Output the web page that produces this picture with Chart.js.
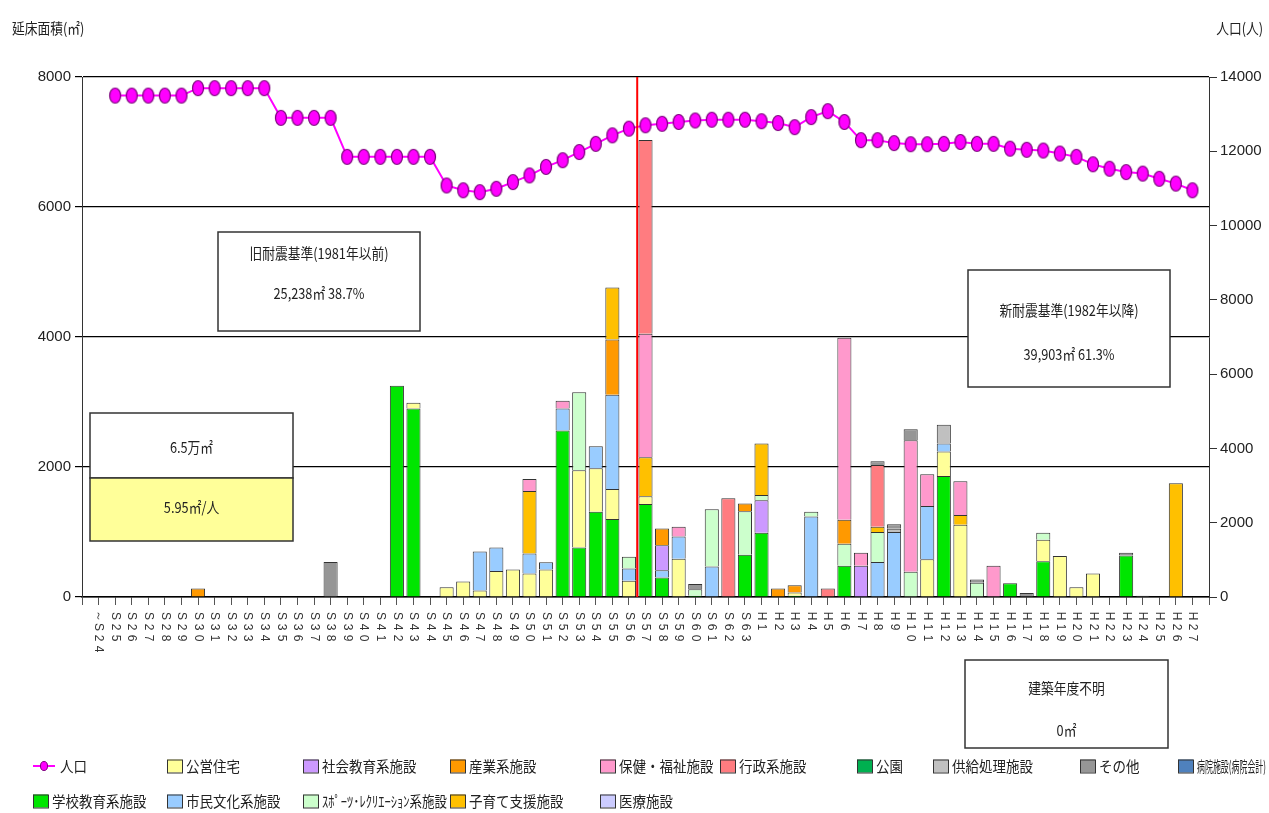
<!DOCTYPE html>
<html>
<head>
<meta charset="utf-8">
<script src="https://cdn.jsdelivr.net/npm/chart.js@4.4.1/dist/chart.umd.min.js"></script>
<style>
  html, body { margin: 0; padding: 0; background: #fff; }
  canvas { display: block; }
</style>
</head>
<body>
<canvas id="chart" width="1269" height="813"></canvas>
<script>
// 建築年度 (x axis)
const categories = [
  '～S24',
  'S25','S26','S27','S28','S29','S30','S31','S32','S33','S34',
  'S35','S36','S37','S38','S39','S40','S41','S42','S43','S44',
  'S45','S46','S47','S48','S49','S50','S51','S52','S53','S54',
  'S55','S56','S57','S58','S59','S60','S61','S62','S63','H1',
  'H2','H3','H4','H5','H6','H7','H8','H9','H10','H11',
  'H12','H13','H14','H15','H16','H17','H18','H19','H20','H21',
  'H22','H23','H24','H25','H26','H27'
];

// 延床面積 (㎡) per use, same order as categories
const school = [
  0,
  0,0,0,0,0,0,0,0,0,0,
  0,0,0,0,0,0,0,3250,2900,0,
  0,0,0,0,0,0,0,2560,760,1310,
  1200,0,1430,300,0,20,0,0,650,990,
  0,20,0,0,480,0,0,0,0,0,
  1860,0,0,0,210,0,550,0,0,0,
  0,640,0,0,0,0
];
const housing = [
  0,
  0,0,0,0,0,0,0,0,0,0,
  0,0,0,0,0,0,0,0,90,0,
  150,240,100,400,425,360,425,0,1190,670,
  460,250,120,0,590,0,0,0,0,0,
  0,50,0,0,0,0,0,0,0,580,
  380,1110,0,0,0,0,330,630,150,360,
  0,0,0,0,0,0
];
const culture = [
  0,
  0,0,0,0,0,0,0,0,0,0,
  0,0,0,0,0,0,0,0,0,0,
  0,0,600,360,0,310,110,340,0,340,
  1450,190,0,110,340,0,470,0,0,0,
  0,0,1240,0,0,0,540,1000,0,820,
  120,0,0,0,0,0,0,0,0,0,
  0,0,0,0,0,0
];
const social = [
  0,
  0,0,0,0,0,0,0,0,0,0,
  0,0,0,0,0,0,0,0,0,0,
  0,0,0,0,0,0,0,0,0,0,
  0,0,0,385,0,0,0,0,0,500,
  0,0,0,0,0,480,0,0,0,0,
  0,0,0,0,0,0,0,0,0,0,
  0,0,0,0,0,0
];
const sports = [
  0,
  0,0,0,0,0,0,0,0,0,0,
  0,0,0,0,0,0,0,0,0,0,
  0,0,0,0,0,0,0,0,1200,0,
  0,180,0,0,0,100,880,0,670,80,
  0,0,70,0,340,0,460,0,390,0,
  0,0,220,0,0,0,110,0,0,0,
  0,0,0,0,0,0
];
const industry = [
  0,
  0,0,0,0,0,130,0,0,0,0,
  0,0,0,0,0,0,0,0,0,0,
  0,0,0,0,0,0,0,0,0,0,
  850,0,0,260,0,0,0,0,120,0,
  130,110,0,0,370,0,0,0,0,0,
  0,0,0,0,0,0,0,0,0,0,
  0,0,0,0,0,0
];
const childcare = [
  0,
  0,0,0,0,0,0,0,0,0,0,
  0,0,0,0,0,0,0,0,0,0,
  0,0,0,0,0,960,0,0,0,0,
  800,0,600,0,0,0,0,0,0,790,
  0,0,0,0,0,0,80,0,0,0,
  0,150,0,0,0,0,0,0,0,0,
  0,0,0,0,1750,0
];
const welfare = [
  0,
  0,0,0,0,0,0,0,0,0,0,
  0,0,0,0,0,0,0,0,0,0,
  0,0,0,0,0,185,0,120,0,0,
  0,0,1900,0,150,0,0,0,0,0,
  0,0,0,0,2800,200,0,0,2020,490,
  0,520,0,480,0,0,0,0,0,0,
  0,0,0,0,0,0
];
const medical = [
  0,
  0,0,0,0,0,0,0,0,0,0,
  0,0,0,0,0,0,0,0,0,0,
  0,0,0,0,0,0,0,0,0,0,
  0,0,0,0,0,0,0,0,0,0,
  0,0,0,0,0,0,0,0,0,0,
  0,0,0,0,0,0,0,0,0,0,
  0,0,0,0,0,0
];
const admin = [
  0,
  0,0,0,0,0,0,0,0,0,0,
  0,0,0,0,0,0,0,0,0,0,
  0,0,0,0,0,0,0,0,0,0,
  0,0,2980,0,0,0,0,1520,0,0,
  0,0,0,130,0,0,950,0,0,0,
  0,0,0,0,0,0,0,0,0,0,
  0,0,0,0,0,0
];
const park = [
  0,
  0,0,0,0,0,0,0,0,0,0,
  0,0,0,0,0,0,0,0,0,0,
  0,0,0,0,0,0,0,0,0,0,
  0,0,0,0,0,0,0,0,0,0,
  0,0,0,0,0,0,0,0,0,0,
  0,0,0,0,0,0,0,0,0,0,
  0,0,0,0,0,0
];
const supply = [
  0,
  0,0,0,0,0,0,0,0,0,0,
  0,0,0,0,0,0,0,0,0,0,
  0,0,0,0,0,0,0,0,0,0,
  0,0,0,0,0,0,0,0,0,0,
  0,0,0,0,0,0,0,50,0,0,
  290,0,0,0,0,0,0,0,0,0,
  0,0,0,0,0,0
];
const other = [
  0,
  0,0,0,0,0,0,0,0,0,0,
  0,0,0,540,0,0,0,0,0,0,
  0,0,0,0,0,0,0,0,0,0,
  0,0,0,0,0,80,0,0,0,0,
  0,0,0,0,0,0,60,70,170,0,
  0,0,50,0,0,60,0,0,0,0,
  0,40,20,0,0,0
];
const hospital = [
  0,
  0,0,0,0,0,0,0,0,0,0,
  0,0,0,0,0,0,0,0,0,0,
  0,0,0,0,0,0,0,0,0,0,
  0,0,0,0,0,0,0,0,0,0,
  0,0,0,0,0,0,0,0,0,0,
  0,0,0,0,0,0,0,0,0,0,
  0,0,0,0,0,0
];

// 人口 (人), S25 .. H27 (no value for ～S24)
const population = [
  13500,13500,13500,13500,13500,13700,13700,13700,13700,13700,
  12900,12900,12900,12900,11850,11850,11850,11850,11850,11850,
  11080,10950,10900,10990,11170,11350,11580,11760,11980,12200,
  12430,12610,12700,12740,12790,12830,12850,12850,12850,12810,
  12760,12650,12920,13080,12790,12300,12300,12220,12190,12190,
  12200,12250,12200,12200,12070,12040,12020,11940,11850,11650,
  11530,11440,11400,11260,11130,10950
];

const leftTicks = [0, 2000, 4000, 6000, 8000];
const rightTicks = [0, 2000, 4000, 6000, 8000, 10000, 12000, 14000];

const JP = "'Noto Sans CJK JP', sans-serif";
const NUM = "'Liberation Sans', sans-serif";

const series = [
  { label: '学校教育系施設', data: school, color: '#00e600' },
  { label: '公営住宅', data: housing, color: '#ffff99' },
  { label: '市民文化系施設', data: culture, color: '#99ccff' },
  { label: '社会教育系施設', data: social, color: '#cc99ff' },
  { label: 'ｽﾎﾟｰﾂ･ﾚｸﾘｴｰｼｮﾝ系施設', data: sports, color: '#ccffcc' },
  { label: '産業系施設', data: industry, color: '#ff9900' },
  { label: '子育て支援施設', data: childcare, color: '#ffc000' },
  { label: '保健・福祉施設', data: welfare, color: '#ff99cc' },
  { label: '医療施設', data: medical, color: '#ccccff' },
  { label: '行政系施設', data: admin, color: '#ff7c80' },
  { label: '公園', data: park, color: '#00b050' },
  { label: '供給処理施設', data: supply, color: '#c0c0c0' },
  { label: 'その他', data: other, color: '#969696' },
  { label: '病院施設(病院会計)', data: hospital, color: '#4f81bd' }
];

// blank slot at each end so the axis lines sit one step outside the first/last year
const xLabels = ['', ...categories, ''];
const pad = arr => [null, ...arr, null];

// population marker: upright oval
const marker = document.createElement('canvas');
marker.width = 14; marker.height = 18;
{
  const m = marker.getContext('2d');
  m.beginPath();
  m.ellipse(7, 9, 5.5, 7.5, 0, 0, Math.PI * 2);
  m.fillStyle = '#ff00ff';
  m.fill();
  m.lineWidth = 1.2;
  m.strokeStyle = '#7a007a';
  m.stroke();
}

function drawText(ctx, text, x, y, size, align, sx, maxW) {
  ctx.save();
  ctx.font = size + 'px ' + JP;
  ctx.fillStyle = '#222';
  ctx.textBaseline = 'middle';
  ctx.textAlign = align;
  ctx.translate(x, y);
  const w = ctx.measureText(text).width * sx;
  const k = maxW && w > maxW ? sx * maxW / w : sx;
  ctx.scale(k, 1);
  ctx.fillText(text, 0, 0);
  ctx.restore();
}

const notes = [
  { x: 218, y: 232, w: 202, h: 99, fill: '#fff', lines: [['旧耐震基準(1981年以前)', 21], ['25,238㎡ 38.7%', 61]] },
  { x: 968, y: 270, w: 202, h: 117, fill: '#fff', lines: [['新耐震基準(1982年以降)', 40], ['39,903㎡ 61.3%', 84]] },
  { x: 90, y: 413, w: 203, h: 65, fill: '#fff', lines: [['6.5万㎡', 34]] },
  { x: 90, y: 478, w: 203, h: 63, fill: '#ffff99', lines: [['5.95㎡/人', 29]] },
  { x: 965, y: 660, w: 203, h: 88, fill: '#fff', lines: [['建築年度不明', 28], ['0㎡', 70]] }
];

const legendCols = [33, 167, 303, 450, 600, 720, 857, 933, 1080, 1178];
const legendRows = [766, 801];

const decorations = {
  id: 'decorations',
  afterDatasetsDraw(chart) {
    const ctx = chart.ctx;
    const x = chart.scales.x;
    const area = chart.chartArea;
    // 1981/1982 boundary
    const a = x.getPixelForValue(categories.indexOf('S56') + 1);
    const b = x.getPixelForValue(categories.indexOf('S57') + 1);
    ctx.save();
    ctx.strokeStyle = '#ff0000';
    ctx.lineWidth = 2;
    ctx.beginPath();
    ctx.moveTo((a + b) / 2, area.top);
    ctx.lineTo((a + b) / 2, area.bottom);
    ctx.stroke();
    ctx.restore();
  },
  afterDraw(chart) {
    const ctx = chart.ctx;
    const x = chart.scales.x;

    // year labels, stacked top to bottom
    ctx.save();
    ctx.font = '12px ' + NUM;
    ctx.fillStyle = '#333';
    ctx.textAlign = 'center';
    ctx.textBaseline = 'middle';
    categories.forEach((c, i) => {
      const px = x.getPixelForValue(i + 1);
      [...c].forEach((ch, k) => {
        ctx.save();
        ctx.translate(px, 616 + k * 11);
        ctx.rotate(Math.PI / 2);
        ctx.fillText(ch, 0, 0);
        ctx.restore();
      });
    });
    ctx.restore();

    // axis titles
    drawText(ctx, '延床面積(㎡)', 12, 28, 15, 'left', 0.85);
    drawText(ctx, '人口(人)', 1263, 28, 15, 'right', 0.85);

    // note boxes
    notes.forEach(n => {
      ctx.save();
      ctx.fillStyle = n.fill;
      ctx.fillRect(n.x, n.y, n.w, n.h);
      ctx.strokeStyle = '#333';
      ctx.lineWidth = 1.5;
      ctx.strokeRect(n.x, n.y, n.w, n.h);
      ctx.restore();
      n.lines.forEach(([t, dy]) => drawText(ctx, t, n.x + n.w / 2, n.y + dy, 15, 'center', 0.85));
    });

    // legend, laid out column by column in two rows
    chart.data.datasets.forEach((ds, i) => {
      const col = i < 10 ? Math.floor(i / 2) : i - 5;
      const row = i < 10 ? i % 2 : 0;
      const lx = legendCols[col];
      const ly = legendRows[row];
      const next = col + 1 < legendCols.length ? legendCols[col + 1] : 1269;
      ctx.save();
      if (ds.type === 'line') {
        ctx.strokeStyle = '#ff00ff';
        ctx.lineWidth = 2;
        ctx.beginPath();
        ctx.moveTo(lx, ly);
        ctx.lineTo(lx + 22, ly);
        ctx.stroke();
        ctx.beginPath();
        ctx.ellipse(lx + 11, ly, 3.5, 4.5, 0, 0, Math.PI * 2);
        ctx.fillStyle = '#ff00ff';
        ctx.fill();
        ctx.strokeStyle = '#7a007a';
        ctx.lineWidth = 1;
        ctx.stroke();
        ctx.restore();
        drawText(ctx, ds.label, lx + 27, ly, 15, 'left', 0.9);
      } else {
        ctx.fillStyle = ds.backgroundColor;
        ctx.fillRect(lx, ly - 6.5, 15, 13);
        ctx.strokeStyle = '#333';
        ctx.lineWidth = 1;
        ctx.strokeRect(lx + 0.5, ly - 6, 15, 13);
        ctx.restore();
        drawText(ctx, ds.label, lx + 19, ly, 15, 'left', 0.9, next - lx - 22);
      }
    });
  }
};

const ctx = document.getElementById('chart').getContext('2d');
new Chart(ctx, {
  type: 'bar',
  data: {
    labels: xLabels,
    datasets: [
      {
        type: 'line',
        label: '人口',
        data: pad([null, ...population]),
        yAxisID: 'y1',
        borderColor: '#ff00ff',
        borderWidth: 2,
        pointStyle: marker,
        pointRadius: 7,
        tension: 0,
        order: 0
      },
      ...series.map(s => ({
        label: s.label,
        data: pad(s.data.map(v => v || null)),
        backgroundColor: s.color,
        borderColor: '#333',
        borderWidth: 1,
        barPercentage: 0.85,
        categoryPercentage: 1.0,
        yAxisID: 'y',
        order: 1
      }))
    ]
  },
  options: {
    responsive: false,
    animation: false,
    devicePixelRatio: 1,
    layout: { padding: { top: 77 } },
    plugins: {
      legend: { display: false },
      tooltip: { enabled: false }
    },
    scales: {
      x: {
        stacked: true,
        offset: false,
        ticks: { display: false },
        grid: { offset: false, drawOnChartArea: false, tickLength: 8, color: '#555' },
        border: { color: '#000', width: 1.5 },
        afterFit: s => { s.height = 216; }
      },
      y: {
        stacked: true,
        min: 0,
        max: 8000,
        afterBuildTicks: s => { s.ticks = leftTicks.map(v => ({ value: v })); },
        ticks: { color: '#222', padding: 4, font: { family: NUM, size: 15 }, callback: v => String(v) },
        grid: { color: '#000', lineWidth: 1.2, tickLength: 7 },
        border: { color: '#333', width: 1 },
        afterFit: s => { s.width = 82; }
      },
      y1: {
        position: 'right',
        min: 0,
        max: 14000,
        afterBuildTicks: s => { s.ticks = rightTicks.map(v => ({ value: v })); },
        ticks: { color: '#222', padding: 3, font: { family: NUM, size: 15 }, callback: v => String(v) },
        grid: { drawOnChartArea: false, color: '#333', tickLength: 8 },
        border: { color: '#333', width: 1 },
        afterFit: s => { s.width = 60; }
      }
    }
  },
  plugins: [decorations]
});
</script>
</body>
</html>
